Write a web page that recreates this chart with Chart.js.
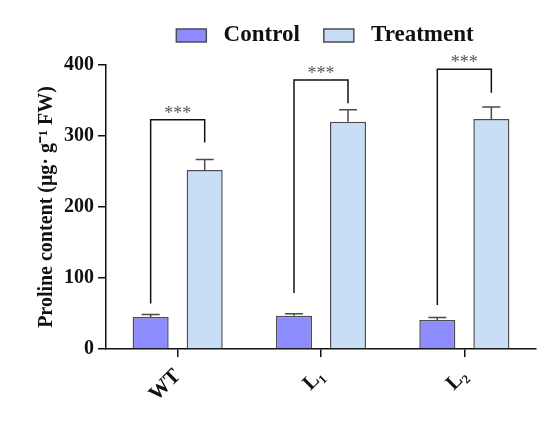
<!DOCTYPE html>
<html>
<head>
<meta charset="utf-8">
<script src="https://cdn.jsdelivr.net/npm/chart.js@4.4.1/dist/chart.umd.min.js"></script>
<style>
  html, body { margin: 0; padding: 0; background: #fff; }
  #wrap { width: 550px; height: 426px; }
</style>
</head>
<body>
<div id="wrap"><canvas id="chart"></canvas></div>
<script>
const categories = ['WT', 'L\u2081', 'L\u2082'];
const controlMeans = [45, 47, 41];
const controlErrors = [3.5, 2.5, 3.5];
const treatmentMeans = [252, 320, 324];
const treatmentErrors = [15, 17, 17];
// significance brackets, in data units: top line, left leg end, right leg end
const bracketTop = [323, 379, 394];
const bracketLeftEnd = [64, 79, 62];
const bracketRightEnd = [291, 346, 361];
const significance = ['***', '***', '***'];
const yTicks = [0, 100, 200, 300, 400];

const SERIF = "'Liberation Serif', 'Times New Roman', serif";
const errorSets = [controlErrors, treatmentErrors];

const errorBars = {
    id: 'errorBars',
    afterDatasetsDraw(chart) {
        const { ctx } = chart;
        const y = chart.scales.y;
        chart.data.datasets.forEach((ds, i) => {
            chart.getDatasetMeta(i).data.forEach((bar, j) => {
                const top = y.getPixelForValue(ds.data[j] + errorSets[i][j]);
                const half = bar.width / 4;
                ctx.save();
                ctx.strokeStyle = '#4a4a4a';
                ctx.lineWidth = 1.5;
                ctx.beginPath();
                ctx.moveTo(bar.x, bar.y);
                ctx.lineTo(bar.x, top);
                ctx.moveTo(bar.x - half, top);
                ctx.lineTo(bar.x + half, top);
                ctx.stroke();
                ctx.restore();
            });
        });
    }
};

const brackets = {
    id: 'brackets',
    afterDatasetsDraw(chart) {
        const { ctx } = chart;
        const y = chart.scales.y;
        const left = chart.getDatasetMeta(0).data;
        const right = chart.getDatasetMeta(1).data;
        bracketTop.forEach((topVal, i) => {
            const x1 = left[i].x, x2 = right[i].x;
            const yt = y.getPixelForValue(topVal);
            ctx.save();
            ctx.strokeStyle = '#111';
            ctx.lineWidth = 1.5;
            ctx.beginPath();
            ctx.moveTo(x1, y.getPixelForValue(bracketLeftEnd[i]));
            ctx.lineTo(x1, yt);
            ctx.lineTo(x2, yt);
            ctx.lineTo(x2, y.getPixelForValue(bracketRightEnd[i]));
            ctx.stroke();
            ctx.fillStyle = '#555';
            ctx.font = '18px ' + SERIF;
            ctx.textAlign = 'center';
            ctx.textBaseline = 'alphabetic';
            ctx.fillText(significance[i], (x1 + x2) / 2, yt - 1);
            ctx.restore();
        });
    }
};

// nudge the legend to where the original figure has it
const legendShift = {
    id: 'legendShift',
    afterLayout(chart) {
        chart.legend.left += 57;
        chart.legend.right += 57;
        chart.legend.top -= 8;
        chart.legend.bottom -= 8;
    }
};

new Chart(document.getElementById('chart'), {
    type: 'bar',
    data: {
        labels: categories,
        datasets: [{
            label: 'Control',
            data: controlMeans,
            backgroundColor: '#8c8cff',
            borderColor: '#4d4d4d',
            borderWidth: 1.5,
            categoryPercentage: 0.754,
            barPercentage: 0.667
        }, {
            label: 'Treatment',
            data: treatmentMeans,
            backgroundColor: '#c8ddf6',
            borderColor: '#4d4d4d',
            borderWidth: 1.5,
            categoryPercentage: 0.754,
            barPercentage: 0.667
        }]
    },
    options: {
        responsive: true,
        maintainAspectRatio: false,
        animation: false,
        layout: { padding: { left: 0, right: 14, top: 8, bottom: 0 } },
        plugins: {
            legend: {
                position: 'top',
                labels: {
                    font: { family: SERIF, size: 23, weight: 'bold' },
                    color: '#111',
                    boxWidth: 30,
                    boxHeight: 13,
                    padding: 24,
                    generateLabels: (chart) =>
                        Chart.defaults.plugins.legend.labels.generateLabels(chart)
                            .map(item => ({ ...item, text: ' ' + item.text }))
                }
            },
            tooltip: { enabled: false }
        },
        scales: {
            x: {
                afterFit: (s) => { s.height = 77; },
                grid: { drawOnChartArea: false, offset: false, tickLength: 8, color: '#111', lineWidth: 1.5 },
                border: { color: '#111', width: 1.5 },
                ticks: {
                    color: '#111',
                    minRotation: 45,
                    maxRotation: 45,
                    padding: 7,
                    font: { family: SERIF, size: 21, weight: 'bold' }
                }
            },
            y: {
                min: 0,
                max: 400,
                afterFit: (s) => { s.width = 106; },
                afterBuildTicks: (s) => { s.ticks = yTicks.map(v => ({ value: v })); },
                grid: { drawOnChartArea: false, tickLength: 8, color: '#111', lineWidth: 1.5 },
                border: { color: '#111', width: 1.5 },
                ticks: {
                    color: '#111',
                    padding: 4,
                    font: { family: SERIF, size: 20, weight: 'bold' }
                },
                title: {
                    display: true,
                    text: 'Proline content (\u03bcg\u00b7 g\u207b\u00b9 FW)',
                    color: '#111',
                    padding: { top: 35, bottom: 0 },
                    font: { family: SERIF, size: 20, weight: 'bold' }
                }
            }
        }
    },
    plugins: [errorBars, brackets, legendShift]
});
</script>
</body>
</html>
